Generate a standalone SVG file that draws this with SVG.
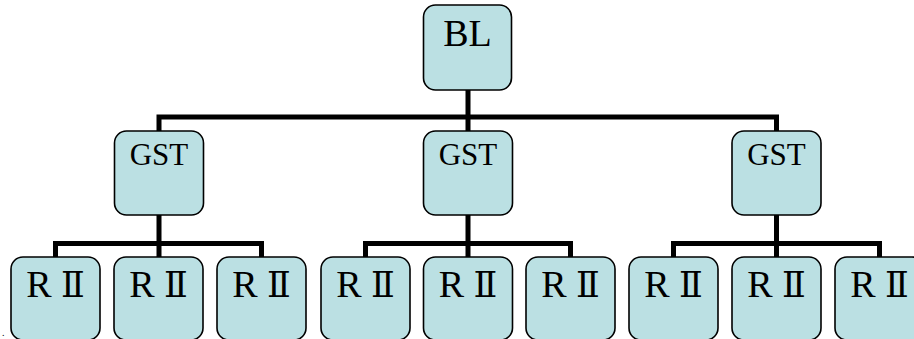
<svg xmlns="http://www.w3.org/2000/svg" width="914" height="339" viewBox="0 0 914 339">
<style>
.box{fill:#BBE0E3;stroke:#000;stroke-width:1.6}
.t{font-family:"Liberation Serif","Times New Roman",serif;fill:#000;text-anchor:middle}
.bl{font-size:38px}
.g{font-size:31px}
.r{font-size:38px}
.n{font-family:"DejaVu Serif","Liberation Serif",serif;font-size:35px}
.c{fill:none;stroke:#000;stroke-width:5;stroke-linejoin:miter;stroke-linecap:butt}
</style>
<rect width="914" height="339" fill="#fff"/>
<g id="connectors">
<path class="c" d="M468 90 V131 M159 131 V117 H776.5 V131"/>
<path class="c" d="M159 215 V257 M55.5 257 V243.5 H261.5 V257"/>
<path class="c" d="M468 215 V257 M365.5 257 V243.5 H570.5 V257"/>
<path class="c" d="M776.5 215 V257 M673.5 257 V243.5 H879.5 V257"/>
</g>
<g id="bl"><rect class="box" x="423.5" y="5" width="88" height="85" rx="12"/><text class="t bl" x="467.5" y="46">BL</text></g>
<g id="gst1"><rect class="box" x="114.5" y="131" width="89" height="84" rx="12"/><text class="t g" x="159" y="165">GST</text></g>
<g id="gst2"><rect class="box" x="423.5" y="131" width="89" height="84" rx="12"/><text class="t g" x="468" y="165">GST</text></g>
<g id="gst3"><rect class="box" x="732" y="131" width="89" height="84" rx="12"/><text class="t g" x="776.5" y="165">GST</text></g>
<g id="r1"><rect class="box" x="11" y="257" width="89" height="83" rx="12"/><text class="t r" x="55.5" y="297">R <tspan class="n">Ⅱ</tspan></text></g>
<g id="r2"><rect class="box" x="114" y="257" width="89" height="83" rx="12"/><text class="t r" x="158.5" y="297">R <tspan class="n">Ⅱ</tspan></text></g>
<g id="r3"><rect class="box" x="217" y="257" width="89" height="83" rx="12"/><text class="t r" x="261.5" y="297">R <tspan class="n">Ⅱ</tspan></text></g>
<g id="r4"><rect class="box" x="321" y="257" width="89" height="83" rx="12"/><text class="t r" x="365.5" y="297">R <tspan class="n">Ⅱ</tspan></text></g>
<g id="r5"><rect class="box" x="423.5" y="257" width="89" height="83" rx="12"/><text class="t r" x="468" y="297">R <tspan class="n">Ⅱ</tspan></text></g>
<g id="r6"><rect class="box" x="526" y="257" width="89" height="83" rx="12"/><text class="t r" x="570.5" y="297">R <tspan class="n">Ⅱ</tspan></text></g>
<g id="r7"><rect class="box" x="629" y="257" width="89" height="83" rx="12"/><text class="t r" x="673.5" y="297">R <tspan class="n">Ⅱ</tspan></text></g>
<g id="r8"><rect class="box" x="732" y="257" width="89" height="83" rx="12"/><text class="t r" x="776.5" y="297">R <tspan class="n">Ⅱ</tspan></text></g>
<g id="r9"><rect class="box" x="835" y="257" width="89" height="83" rx="12"/><text class="t r" x="879.5" y="297">R <tspan class="n">Ⅱ</tspan></text></g>
<text x="2" y="336" style="font-family:'Liberation Serif',serif;font-size:10px">.</text>
</svg>
